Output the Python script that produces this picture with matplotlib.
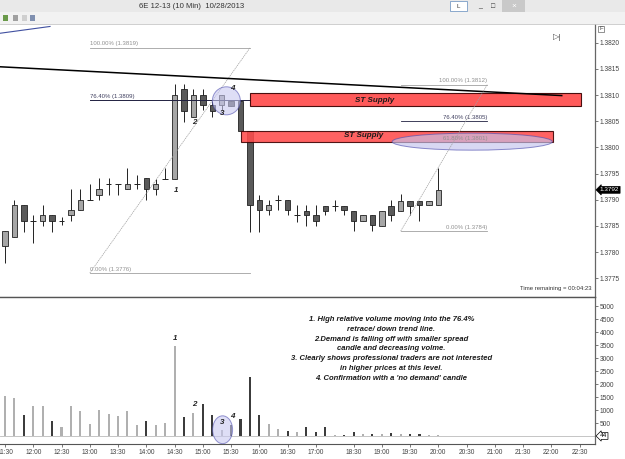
import matplotlib
matplotlib.use("Agg")
import matplotlib.pyplot as plt
import matplotlib.transforms as mtransforms
from matplotlib.patches import Rectangle, Ellipse

plt.rcParams['font.family'] = ['Liberation Sans', 'DejaVu Sans']

# ---- data (10 min bars of 6E 12-13, 28 Oct 2013) ----
opens = [1.37811, 1.37828, 1.37890, 1.37860, 1.37860, 1.37870, 1.37860, 1.37870, 1.37880, 1.37900,
         1.37909, 1.37930, 1.37930, 1.37920, 1.37930, 1.37941, 1.37920, 1.37940, 1.37940, 1.38111,
         1.38059, 1.38100, 1.38081, 1.38081, 1.38089, 1.38089, 1.38031, 1.37900, 1.37880, 1.37900,
         1.37900, 1.37871, 1.37879, 1.37870, 1.37889, 1.37889, 1.37889, 1.37879, 1.37860, 1.37870,
         1.37850, 1.37889, 1.37879, 1.37898, 1.37898, 1.37890, 1.37890]
highs = [1.37840, 1.37900, 1.37890, 1.37871, 1.37890, 1.37870, 1.37868, 1.37920, 1.37920, 1.37931,
         1.37941, 1.37941, 1.37930, 1.37960, 1.37947, 1.37941, 1.37939, 1.37960, 1.38121, 1.38121,
         1.38111, 1.38111, 1.38089, 1.38100, 1.38089, 1.38089, 1.38031, 1.37909, 1.37900, 1.37909,
         1.37900, 1.37890, 1.37890, 1.37890, 1.37889, 1.37900, 1.37889, 1.37879, 1.37870, 1.37870,
         1.37879, 1.37900, 1.37911, 1.37898, 1.37898, 1.37898, 1.37960]
lows = [1.37779, 1.37828, 1.37839, 1.37818, 1.37849, 1.37839, 1.37851, 1.37860, 1.37880, 1.37900,
        1.37900, 1.37909, 1.37909, 1.37920, 1.37920, 1.37900, 1.37910, 1.37940, 1.37940, 1.38049,
        1.38059, 1.38071, 1.38059, 1.38071, 1.38080, 1.38031, 1.37839, 1.37839, 1.37871, 1.37880,
        1.37871, 1.37858, 1.37850, 1.37849, 1.37870, 1.37879, 1.37870, 1.37840, 1.37860, 1.37840,
        1.37850, 1.37860, 1.37879, 1.37871, 1.37860, 1.37890, 1.37890]
closes = [1.37840, 1.37890, 1.37860, 1.37860, 1.37870, 1.37860, 1.37860, 1.37880, 1.37900, 1.37900,
          1.37920, 1.37930, 1.37930, 1.37930, 1.37930, 1.37920, 1.37930, 1.37940, 1.38100, 1.38070,
          1.38100, 1.38081, 1.38070, 1.38100, 1.38080, 1.38031, 1.37890, 1.37880, 1.37890, 1.37900,
          1.37880, 1.37871, 1.37870, 1.37860, 1.37879, 1.37889, 1.37880, 1.37860, 1.37870, 1.37851,
          1.37879, 1.37870, 1.37898, 1.37889, 1.37890, 1.37898, 1.37919]
volumes = [1530, 1465, 795, 1170, 1145, 560, 340, 1170, 950, 445,
           1015, 860, 755, 960, 435, 575, 405, 495, 3470, 745,
           870, 1220, 820, 215, 420, 650, 2270, 820, 475, 280,
           185, 150, 340, 150, 340, 50, 50, 150, 60, 60,
           60, 100, 60, 90, 70, 40, 44]

time_labels = ['11:30', '12:00', '12:30', '13:00', '13:30', '14:00', '14:30', '15:00', '15:30',
               '16:00', '16:30', '17:00', '18:30', '19:00', '19:30', '20:00', '20:30', '21:00',
               '21:30', '22:00', '22:30']
time_label_bars = [0, 3, 6, 9, 12, 15, 18, 21, 24, 27, 30, 33, 37, 40, 43, 46, 49, 52, 55, 58, 61]

price_ticks = [1.3775, 1.3780, 1.3785, 1.3790, 1.3795, 1.3800, 1.3805, 1.3810, 1.3815, 1.3820]
volume_ticks = [500, 1000, 1500, 2000, 2500, 3000, 3500, 4000, 4500, 5000]

fib1_levels = [('100.00%', 1.3819), ('76.40%', 1.3809), ('0.00%', 1.3776)]
fib2_levels = [('100.00%', 1.3812), ('76.40%', 1.3805), ('61.80%', 1.3801), ('0.00%', 1.3784)]

notes = ("1. High relative volume moving into the 76.4%\n"
         "retrace/ down trend line.\n"
         "2.Demand is falling off with smaller spread\n"
         "candle and decreasing volme.\n"
         "3. Clearly shows professional traders are not interested\n"
         "in higher prices at this level.\n"
         "4. Confirmation with a 'no demand' candle")

W, H = 625, 459
fig = plt.figure(figsize=(W / 100, H / 100), dpi=100)
fig.patch.set_facecolor('white')


def fx(px):
    return px / W


def fy(py):
    return 1 - py / H


# ---- window chrome ----
fig.patches.append(Rectangle((0, fy(12)), 1, 12 / H, transform=fig.transFigure,
                             facecolor='#e9e9e9', edgecolor='none'))
fig.patches.append(Rectangle((0, fy(24)), 1, 12 / H, transform=fig.transFigure,
                             facecolor='#f2f2f2', edgecolor='none'))
fig.lines.append(plt.Line2D([0, 1], [fy(24), fy(24)], transform=fig.transFigure,
                            color='#c8c8c8', lw=0.6))
fig.text(fx(192), fy(6), '6E 12-13 (10 Min)  10/28/2013', ha='center', va='center',
         fontsize=5.6, color='#333333')
for x0, c in [(3, '#6a9a4a'), (13, '#a0a0a0'), (22, '#d0d0d0'), (30, '#8090b0')]:
    fig.patches.append(Rectangle((fx(x0), fy(21)), fx(5), 6 / H, transform=fig.transFigure,
                                 facecolor=c, edgecolor='none'))
fig.patches.append(Rectangle((fx(450), fy(11)), fx(17), 10 / H, transform=fig.transFigure,
                             facecolor='white', edgecolor='#7a9cc6', lw=0.6))
fig.text(fx(458.5), fy(6), 'L', ha='center', va='center', fontsize=4.5, color='#333333')
fig.text(fx(480), fy(6), '_', ha='center', va='center', fontsize=5, color='#333333')
fig.text(fx(493), fy(6), '\u25a1', ha='center', va='center', fontsize=5, color='#333333')
fig.patches.append(Rectangle((fx(502), fy(12)), fx(23), 12 / H, transform=fig.transFigure,
                             facecolor='#c9c9c9', edgecolor='none'))
fig.text(fx(513.5), fy(6), '\u00d7', ha='center', va='center', fontsize=6, color='white')

# ---- axes ----
ax = fig.add_axes([0, fy(297), fx(595), (297 - 24) / H])
axv = fig.add_axes([0, fy(444), fx(595), (444 - 297) / H], sharex=ax)

px_per_bar = 9.42
x0 = 5.0
ax.set_xlim(-x0 / px_per_bar, (595 - x0) / px_per_bar)
ax.set_ylim(1.377143, 1.382357)
axv.set_ylim(-310, 5360)

for a in (ax, axv):
    a.set_facecolor('white')
    a.spines['left'].set_visible(False)
    a.spines['top'].set_visible(False)
    a.spines['right'].set_color('#666666')
    a.spines['bottom'].set_color('#555555')
    a.spines['right'].set_linewidth(0.9)
    a.yaxis.tick_right()
    a.tick_params(axis='y', direction='out', length=2.5, width=0.5, pad=1,
                  labelsize=4.8, colors='#444444')

ax.set_yticks(price_ticks)
ax.set_yticklabels(['%.4f' % p for p in price_ticks])
ax.tick_params(axis='x', bottom=False, labelbottom=False)
axv.set_yticks(volume_ticks)
axv.set_yticklabels([str(v) for v in volume_ticks])
axv.set_xticks(time_label_bars)
axv.set_xticklabels(time_labels)
axv.tick_params(axis='x', direction='out', length=2, width=0.5, pad=1.5,
                labelsize=4.8, colors='#444444')

# separator between price and volume panels
fig.lines.append(plt.Line2D([0, fx(595)], [fy(297), fy(297)], transform=fig.transFigure,
                            color='#555555', lw=1.0, zorder=20))

# ---- candles ----
up_col, dn_col = '#a6a6a6', '#5a5a5a'
for i, (o, h, l, c) in enumerate(zip(opens, highs, lows, closes)):
    ax.vlines(i, l, h, color='#222222', lw=0.7, zorder=2)
    if abs(c - o) < 0.00002:
        ax.hlines(o, i - 0.3, i + 0.3, color='#222222', lw=0.7, zorder=3)
    else:
        ax.bar(i, abs(c - o), bottom=min(o, c), width=0.58,
               color=up_col if c > o else dn_col, edgecolor='#222222', lw=0.6, zorder=3)

# ---- volume ----
vcols = ['#b0b0b0' if c >= o else '#3c3c3c' for o, c in zip(opens, closes)]
axv.bar(range(len(volumes)), volumes, width=0.22, color=vcols, zorder=2)
axv.axhline(0, color='#bbbbbb', lw=0.6, zorder=1)

# ---- drawing objects ----
ax.plot([-0.53, 4.78], [1.38218, 1.38231], color='#4050a0', lw=0.8, clip_on=True)
ax.plot([-0.53, 59.1], [1.38154, 1.38099], color='black', lw=1.1, zorder=6)

ax.add_patch(Rectangle((26.0, 1.38079), 35.15, 0.00024, facecolor='#ff4c4c',
                       edgecolor='#3a0000', lw=0.8, alpha=0.92, zorder=5))
ax.add_patch(Rectangle((25.05, 1.38010), 33.1, 0.00021, facecolor='#ff4c4c',
                       edgecolor='#3a0000', lw=0.8, alpha=0.88, zorder=5))
ax.text(39.2, 1.38089, 'ST Supply', ha='center', va='center', fontsize=5.8,
        style='italic', weight='bold', color='#1a1a1a', zorder=7)
ax.text(38.1, 1.38022, 'ST Supply', ha='center', va='center', fontsize=5.8,
        style='italic', weight='bold', color='#1a1a1a', zorder=7)

# fibonacci 1
f1x0, f1x1 = 9.0, 26.0
for lab, lev in fib1_levels:
    col = '#202040' if lab == '76.40%' else '#a0a0a0'
    ax.plot([f1x0, f1x1], [lev, lev], color=col, lw=0.7 if lab == '76.40%' else 0.6, zorder=4)
    ax.text(f1x0, lev + 0.00003, '%s (%.4f)' % (lab, lev), ha='left', va='bottom',
            fontsize=4.3, color='#404060' if lab == '76.40%' else '#909090', zorder=4)
ax.plot([f1x0, f1x1], [1.3776, 1.3819], color='#a0a0a0', lw=0.5, ls=(0, (2, 1)), zorder=4)

# fibonacci 2
f2x0, f2x1 = 42.0, 51.2
for lab, lev in fib2_levels:
    col = '#202040' if lab == '76.40%' else '#a0a0a0'
    if lab != '61.80%':
        ax.plot([f2x0, f2x1], [lev, lev], color=col, lw=0.6, zorder=4)
    ax.text(f2x1, lev + 0.00003, '%s (%.4f)' % (lab, lev), ha='right', va='bottom',
            fontsize=4.3, color='#404060' if lab == '76.40%' else '#909090', zorder=8)
ax.plot([f2x0, f2x1], [1.3784, 1.3812], color='#a0a0a0', lw=0.5, ls=(0, (2, 1)), zorder=8)

ax.add_patch(Ellipse((49.6, 1.38011), 17.0, 0.000325, facecolor='#c4c4ee',
                     edgecolor='#5050b0', lw=0.7, alpha=0.65, zorder=7))
ax.add_patch(Ellipse((23.5, 1.38089), 2.97, 0.000535, facecolor='#c8c8f0',
                     edgecolor='#5050b0', lw=0.7, alpha=0.6, zorder=7))
axv.add_patch(Ellipse((23.1, 240), 2.12, 1074, facecolor='#c8c8f0',
                      edgecolor='#5050b0', lw=0.7, alpha=0.6, zorder=7))

for s, xi, yp in [('1', 18.15, 1.37917), ('2', 20.1, 1.38047), ('3', 23.1, 1.38064), ('4', 24.1, 1.38113)]:
    ax.text(xi, yp, s, ha='center', va='center', fontsize=5.8, style='italic',
            weight='bold', color='#222222', zorder=9)
for s, xi, yv in [('1', 18.05, 3740), ('2', 20.06, 1220), ('3', 23.1, 523), ('4', 24.1, 756)]:
    axv.text(xi, yv, s, ha='center', va='center', fontsize=5.8, style='italic',
             weight='bold', color='#222222', zorder=9)

axv.text(41.0, 3360, notes, ha='center', va='center', fontsize=5.5, style='italic',
         weight='bold', color='#1a1a1a', linespacing=1.55)

ax.text(0.995, 0.03, 'Time remaining = 00:04:23', transform=ax.transAxes, ha='right',
        va='center', fontsize=4.3, color='#333333')

# last price / last volume markers on the axes
tr = mtransforms.blended_transform_factory(ax.transAxes, ax.transData)
ax.text(1.008, closes[-1], '%.4f' % round(closes[-1], 4), transform=tr, ha='left', va='center',
        fontsize=4.6, color='white', clip_on=False, zorder=10,
        bbox=dict(boxstyle='larrow,pad=0.15', fc='black', ec='black', lw=0.5))
trv = mtransforms.blended_transform_factory(axv.transAxes, axv.transData)
axv.text(1.008, 0, str(volumes[-1]), transform=trv, ha='left', va='center',
         fontsize=4.6, color='black', clip_on=False, zorder=10,
         bbox=dict(boxstyle='larrow,pad=0.15', fc='white', ec='black', lw=0.5))

fig.text(fx(557), fy(37), '\u25b7|', ha='center', va='center', fontsize=6, color='#444444')
fig.text(fx(601), fy(29), 'F', ha='center', va='center', fontsize=4.2, color='#444444',
         bbox=dict(boxstyle='square,pad=0.15', fc='white', ec='#666666', lw=0.5))

fig.savefig('out.png', dpi=100)
